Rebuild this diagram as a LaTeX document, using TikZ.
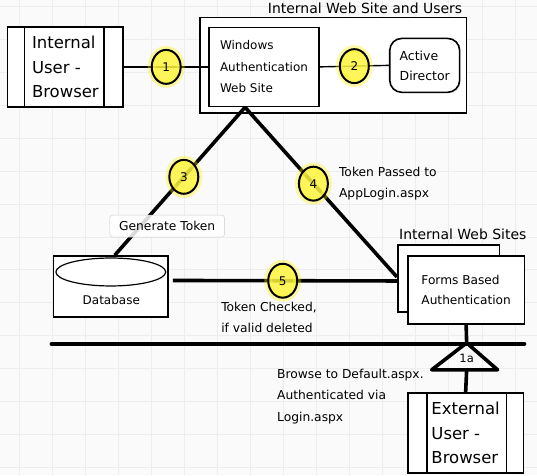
\documentclass[tikz,border=0pt]{standalone}
\usepackage{fontspec}
\setmainfont{DejaVu Sans}
\usetikzlibrary{shapes,calc,positioning}

\begin{document}
\begin{tikzpicture}[x=1pt, y=-1pt,
  box/.style={rectangle, draw, line width=1.6pt, fill=white, inner sep=0pt},
  user/.style={box, minimum width=116pt, minimum height=80pt, align=left, font=\fontsize{16.5}{24.5}\selectfont},
  txt/.style={align=left, inner sep=0pt, font=\fontsize{12.3}{21.5}\selectfont},
  title/.style={txt, font=\fontsize{14}{16}\selectfont},
  num/.style={ellipse, draw, line width=2pt, fill=yellow!75!white, fill opacity=0.85, text opacity=1,
    minimum width=29pt, minimum height=34pt, inner sep=0pt, font=\fontsize{12}{14}\selectfont,
    preaction={draw=yellow, line width=8pt, draw opacity=0.35}},
  wire/.style={line width=1.4pt},
  link/.style={line width=3.6pt}
  ]
  \fill[black!2] (0,0) rectangle (537,475);
  \foreach \gx in {0,...,15} \draw[black!7, line width=1pt] (19+33.1*\gx,0) -- (19+33.1*\gx,475);
  \foreach \gy in {0,...,14} \draw[black!7, line width=1pt] (0,6+33*\gy) -- (537,6+33*\gy);
  \useasboundingbox (0,0) rectangle (537,475);

  \node[user] (iub) at (65,66.5) {Internal\\User -\\Browser};
  \draw[line width=1.6pt] ([xshift=18pt]iub.north west) -- ([xshift=18pt]iub.south west);
  \draw[line width=1.6pt] ([xshift=-20pt]iub.north east) -- ([xshift=-20pt]iub.south east);

  \node[box, minimum width=267pt, minimum height=96pt] (site) at (333.5,65) {};
  \node[title, above left=3pt and 5pt of site.north east] (siteTitle) {Internal Web Site and Users};
  \node[box, txt, font=\fontsize{12}{21.5}\selectfont, minimum width=110pt, minimum height=79pt] (wa) at (264,66.5) {Windows\\Authentication\\Web Site};
  \node[box, txt, font=\fontsize{12.5}{20}\selectfont, rounded corners=12pt, minimum width=70pt, minimum height=54pt] (ad) at (425,65) {Active\\Director};

  \node[box, minimum width=102pt, minimum height=67pt] (fbaBack) at (449,278.5) {};
  \node[box, txt, font=\fontsize{12.2}{19.5}\selectfont, minimum width=117pt, minimum height=68pt] (fba) at (466.5,290) {Forms Based\\Authentication};
  \node[title, above right=4pt and 2pt of fbaBack.north west] (fbaTitle) {Internal Web Sites};

  \node[box, minimum width=115pt, minimum height=61pt] (db) at (110.5,286.5) {};
  \node[ellipse, draw, line width=1.2pt, minimum width=110pt, minimum height=28pt] (dbTop) at (110.5,272) {};
  \node[txt, font=\fontsize{12}{14}\selectfont] (dbText) at (111,300) {Database};

  \coordinate (apex) at (245,107);
  \draw[wire] (iub.east) -- node[num] (n1) {1} (wa.west);
  \draw[wire] (wa.east) -- node[num] (n2) {2} (ad.west);
  \draw[link] (apex) -- node[num, pos=0.47] (n3) {3} ([xshift=4pt]db.north);
  \draw[link] (apex) -- node[num, pos=0.45] (n4) {4} ([yshift=1.5pt]fbaBack.west);
  \draw[link] ([xshift=4pt,yshift=6pt]db.east) -- node[num, pos=0.49] (n5) {5} ([yshift=-2.5pt]fbaBack.west);

  \node[rectangle, rounded corners=3pt, draw=black!20, fill=white, fill opacity=0.85, text opacity=1,
    minimum width=115pt, minimum height=22pt, font=\fontsize{12.3}{14}\selectfont] (genToken) at (167,226) {Generate Token};
  \node[txt, right=10pt of n4] (tokPassed) {Token Passed to\\AppLogin.aspx};
  \node[txt, anchor=north west] (tokChecked) at (221,302) {Token Checked,\\if valid deleted};

  \coordinate (wallL) at (51,344);
  \coordinate (wallR) at (525,344);
  \draw[link, line cap=round] (wallL) -- (wallR);

  \coordinate (fwTop) at (467,343);
  \coordinate (fwLeft) at (432,370);
  \coordinate (fwRight) at (498,370);
  \coordinate (fwBase) at (467,370);
  \draw[link] (fba.south) -- (fwTop);
  \draw[link, line join=round] (fwLeft) -- (fwTop) -- (fwRight) -- cycle;
  \node[font=\fontsize{11.5}{13}\selectfont] (fw) at (467,359) {1a};

  \node[user] (eub) at (466,433.5) {External\\User -\\Browser};
  \draw[line width=1.6pt] ([xshift=20pt]eub.north west) -- ([xshift=20pt]eub.south west);
  \draw[line width=1.6pt] ([xshift=-18pt]eub.north east) -- ([xshift=-18pt]eub.south east);
  \draw[link] (fwBase) -- (eub.north);

  \node[txt, anchor=north west] (browseNote) at (277,369) {Browse to Default.aspx.\\Authenticated via\\Login.aspx};
\end{tikzpicture}
\end{document}
